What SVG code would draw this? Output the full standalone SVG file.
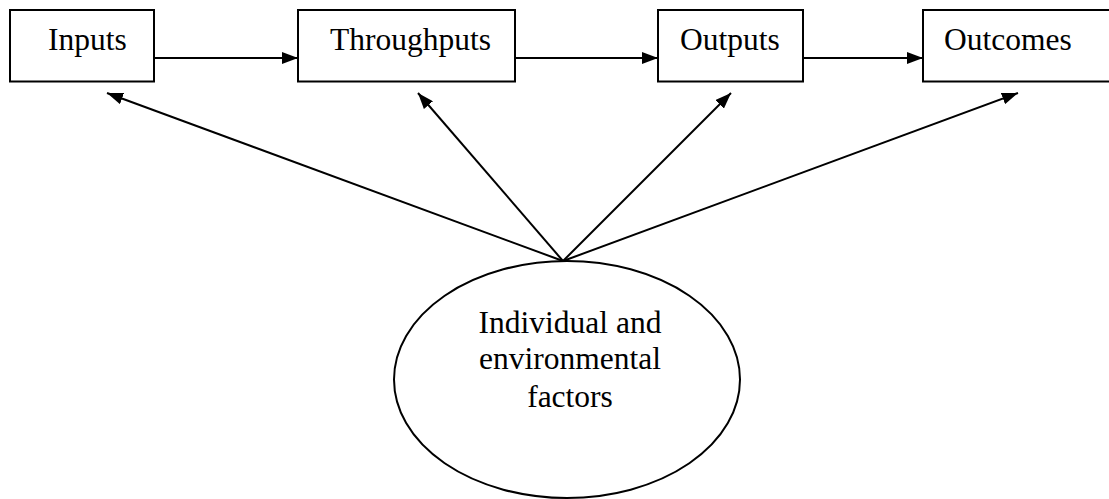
<svg xmlns="http://www.w3.org/2000/svg" width="1109" height="499" viewBox="0 0 1109 499">
  <style>
    .box { fill: #fff; stroke: #000; stroke-width: 2; }
    .lbl { font-family: "Liberation Serif", "Times New Roman", serif; font-size: 31.5px; fill: #000; }
    .edge { stroke: #000; stroke-width: 2; fill: none; marker-end: url(#head); }
  </style>
  <defs>
    <marker id="head" viewBox="0 0 16 12" refX="16" refY="6" markerWidth="16" markerHeight="12" markerUnits="userSpaceOnUse" orient="auto">
      <path d="M0,0 L16,6 L0,12 Z" fill="#000"/>
    </marker>
  </defs>
  <rect width="1109" height="499" fill="#fff"/>

  <g id="connectors">
    <line class="edge" x1="155" y1="58" x2="298" y2="58"/>
    <line class="edge" x1="515" y1="58" x2="658" y2="58"/>
    <line class="edge" x1="803" y1="58" x2="923" y2="58"/>
    <line class="edge" x1="563" y1="261" x2="107" y2="93"/>
    <line class="edge" x1="563" y1="261" x2="418" y2="93"/>
    <line class="edge" x1="563" y1="261" x2="731" y2="93"/>
    <line class="edge" x1="563" y1="261" x2="1018" y2="93"/>
  </g>

  <g id="inputs">
    <rect class="box" x="10" y="10" width="144" height="71.5"/>
    <text class="lbl" x="48" y="50">Inputs</text>
  </g>
  <g id="throughputs">
    <rect class="box" x="298" y="10" width="217" height="71.5"/>
    <text class="lbl" x="330" y="50">Throughputs</text>
  </g>
  <g id="outputs">
    <rect class="box" x="658" y="10" width="145" height="71.5"/>
    <text class="lbl" x="680" y="50">Outputs</text>
  </g>
  <g id="outcomes">
    <rect class="box" x="923" y="10" width="200" height="71.5"/>
    <text class="lbl" x="944" y="50">Outcomes</text>
  </g>
  <g id="factors">
    <ellipse class="box" cx="567" cy="379.5" rx="173" ry="118.5"/>
    <text class="lbl" text-anchor="middle" x="570" y="333">Individual and</text>
    <text class="lbl" text-anchor="middle" x="570" y="369">environmental</text>
    <text class="lbl" text-anchor="middle" x="570" y="407">factors</text>
  </g>
</svg>
